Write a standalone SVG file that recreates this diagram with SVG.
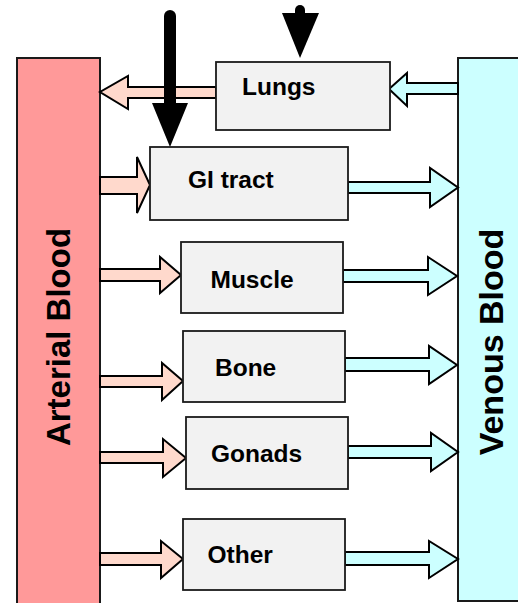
<svg xmlns="http://www.w3.org/2000/svg" width="518" height="603" viewBox="0 0 518 603">
<style>
.box{fill:#F2F2F2;stroke:#1a1a1a;stroke-width:1.8}
.lbl{font-family:"Liberation Sans",Arial,sans-serif;font-weight:bold;font-size:24.5px;fill:#000}
.big{font-family:"Liberation Sans",Arial,sans-serif;font-weight:bold;font-size:33px;fill:#000}
.pa{fill:#FFD9CC;stroke:#000;stroke-width:2;stroke-linejoin:miter}
.ca{fill:#CCFFFF;stroke:#000;stroke-width:2;stroke-linejoin:miter}
</style>
<rect width="518" height="603" fill="#fff"/>
<g id="arterial">
<rect x="17" y="58" width="83" height="560" fill="#FF9999" stroke="#1a1a1a" stroke-width="2"/>
<text class="big" transform="translate(70,337) rotate(-90)" text-anchor="middle">Arterial Blood</text>
</g>
<g id="venous">
<rect x="458" y="58" width="64" height="543" fill="#CCFFFF" stroke="#1a1a1a" stroke-width="2"/>
<text class="big" style="font-size:34px" transform="translate(503,342) rotate(-90)" text-anchor="middle">Venous Blood</text>
</g>
<g id="connectors">
<polygon class="pa" points="216,87 128,87 128,76 100,92 128,109 128,98 216,98"/>
<polygon class="ca" points="458,83 407,83 407,73 389,89 407,106 407,94 458,94"/>
<polygon class="pa" points="100,177 137,177 137,157 150,185 137,213 137,194 100,194"/>
<polygon class="ca" points="348,182 430,182 430,168 458,187.5 430,207 430,193 348,193"/>
<polygon class="pa" points="100,269 160,269 160,257 181,275 160,293 160,281 100,281"/>
<polygon class="ca" points="343,270 428,270 428,257 457,276 428,295 428,282 343,282"/>
<polygon class="pa" points="100,376 162,376 162,363 183,381 162,400 162,387 100,387"/>
<polygon class="ca" points="345,358 429,358 429,346 457,365 429,384 429,371 345,371"/>
<polygon class="pa" points="100,452 163,452 163,439 186,458 163,477 163,463 100,463"/>
<polygon class="ca" points="348,446 431,446 431,433 458,452 431,471 431,458 348,458"/>
<polygon class="pa" points="100,553 161,553 161,541 183,559 161,578 161,565 100,565"/>
<polygon class="ca" points="345,552 429,552 429,541 458,559 429,578 429,565 345,565"/>
<line x1="170" y1="16" x2="170" y2="106" stroke="#000" stroke-width="12" stroke-linecap="round"/>
<polygon points="152,103 188,103 170,147" fill="#000"/>
<line x1="300" y1="10" x2="300" y2="16" stroke="#000" stroke-width="10" stroke-linecap="round"/>
<polygon points="282,13 319,13 300,58" fill="#000"/>
</g>
<g id="lungs">
<rect class="box" x="216" y="62" width="174" height="68"/>
<text class="lbl" x="242" y="95">Lungs</text>
</g>
<g id="gi">
<rect class="box" x="150" y="147" width="198" height="73"/>
<text class="lbl" x="188" y="188">GI tract</text>
</g>
<g id="muscle">
<rect class="box" x="181" y="242" width="162" height="71"/>
<text class="lbl" x="210.5" y="288">Muscle</text>
</g>
<g id="bone">
<rect class="box" x="183" y="331" width="162" height="71"/>
<text class="lbl" x="215" y="375.5">Bone</text>
</g>
<g id="gonads">
<rect class="box" x="186" y="417" width="162" height="72"/>
<text class="lbl" x="211" y="461.5">Gonads</text>
</g>
<g id="other">
<rect class="box" x="183" y="519" width="162" height="71"/>
<text class="lbl" x="207.5" y="562.5">Other</text>
</g>
</svg>
